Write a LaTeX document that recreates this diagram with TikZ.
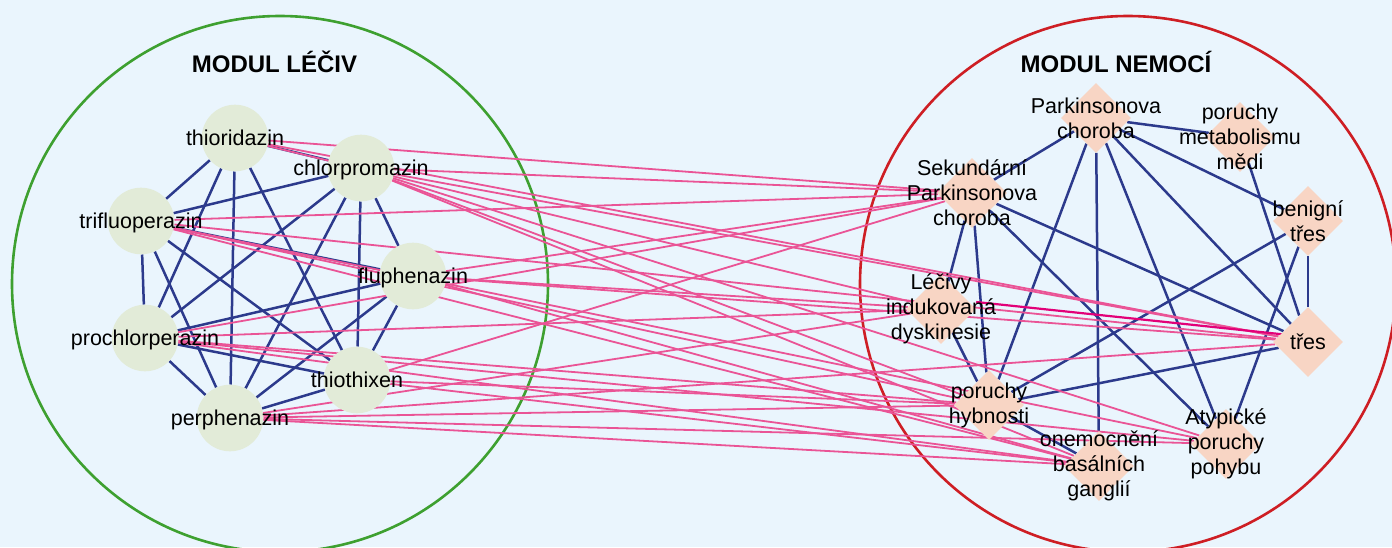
\documentclass[tikz,border=0pt]{standalone}
\usepackage{fontspec}
\setmainfont{Liberation Sans}
\usetikzlibrary{shapes.geometric,calc}
\pgfdeclarelayer{bg}
\pgfdeclarelayer{edges}
\pgfsetlayers{bg,edges,main}
\definecolor{bgcol}{RGB}{234,245,253}
\definecolor{drugfill}{RGB}{226,235,216}
\definecolor{disfill}{RGB}{248,213,196}
\definecolor{modgreen}{RGB}{62,160,48}
\definecolor{modred}{RGB}{206,30,36}
\definecolor{blueedge}{RGB}{44,58,140}
\definecolor{pinkedge}{RGB}{234,84,150}
\definecolor{magedge}{RGB}{226,0,120}
\tikzset{
  drug/.style={circle, fill=drugfill, minimum size=66.6pt, inner sep=0pt},
  dis/.style={diamond, fill=disfill, minimum width=70pt, minimum height=70pt, inner sep=0pt},
  lbl/.style={font=\fontsize{21.5}{25}\selectfont, text=black, inner sep=0pt, text height=15.5pt, text depth=0pt},
  mlbl/.style={font=\fontsize{21.5}{25}\selectfont, text=black, inner sep=0pt, align=center},
  within/.style={draw=blueedge, line width=2.5pt},
  across/.style={draw=pinkedge, line width=1.8pt},
  strongedge/.style={draw=magedge, line width=2.2pt},
  module/.style={line width=2.6pt},
  title/.style={font=\fontsize{24}{28}\selectfont\bfseries, inner sep=0pt, anchor=base}
}
\begin{document}
\begin{tikzpicture}[x=1pt,y=-1pt]
\useasboundingbox (0,0) rectangle (1392,547);
\begin{pgfonlayer}{bg}
  \fill[bgcol] (0,0) rectangle (1392,547);
  \draw[modgreen, module] (280,284) circle[radius=268pt];
  \draw[modred, module] (1128,284) circle[radius=268pt];
\end{pgfonlayer}

\node[title] (t1) at (274.5,72) {MODUL LÉČIV};
\node[title] (t2) at (1116,72) {MODUL NEMOCÍ};

% drug module
\node[drug, label={[lbl,name=Al]center:thioridazin}] (A) at (235,138) {};
\node[drug, label={[lbl,name=Bl]center:chlorpromazin}] (B) at (361,168) {};
\node[drug, label={[lbl,name=Cl]center:trifluoperazin}] (C) at (141,221) {};
\node[drug, label={[lbl,name=Dl]center:fluphenazin}] (D) at (413,276) {};
\node[drug, label={[lbl,name=El]center:prochlorperazin}] (E) at (145,338) {};
\node[drug, label={[lbl,name=Fl]center:thiothixen}] (F) at (357,380) {};
\node[drug, label={[lbl,name=Gl]center:perphenazin}] (G) at (230,418) {};

% disease module
\node[dis, label={[mlbl,name=Pl]center:{Parkinsonova\\choroba}}] (P) at (1096,118) {};
\node[dis, label={[mlbl,name=Ml]center:{poruchy\\metabolismu\\mědi}}] (M) at (1240,137) {};
\node[dis, label={[mlbl,name=Sl]center:{Sekundární\\Parkinsonova\\choroba}}] (S) at (972,193) {};
\node[dis, label={[mlbl,name=Ql]center:{benigní\\třes}}] (Q) at (1308,221) {};
\node[dis, label={[mlbl,name=Ll]center:{Léčivy\\indukovaná\\dyskinesie}}] (L) at (941,309) {};
\node[dis, label={[lbl,name=Tl]center:třes}] (T) at (1308,342) {};
\node[dis, label={[mlbl,name=Hl]center:{poruchy\\hybnosti}}] (H) at (989,405) {};
\node[dis, label={[mlbl,name=Ul]center:{Atypické\\poruchy\\pohybu}}] (U) at (1226,444) {};
\node[dis, label={[mlbl,name=Ol]center:{onemocnění\\basálních\\ganglií}}] (O) at (1099,466) {};

\begin{pgfonlayer}{edges}
  \foreach \a/\b in {A/B, A/C, A/E, A/F, A/G, B/C, B/D, B/E, B/F, B/G, C/D, C/E, C/F, C/G, D/E, D/F, D/G, E/F, E/G, F/G}
    \draw[within] (\a) -- (\b);
  \foreach \a/\b in {P/M, P/S, P/Q, P/T, P/U, P/O, P/H, M/T, S/L, S/H, S/T, S/U, Q/T, Q/H, Q/U, L/H, T/H, H/O}
    \draw[within] (\a) -- (\b);
  \foreach \a/\b in {A/S, A/T, A/L, B/S, B/T, B/H, B/O, B/U, C/S, C/T, C/H, C/U, C/O, D/S, D/L, D/T, D/O, E/S, E/L, E/H, E/O, E/U, F/S, F/H, F/O, G/L, G/T, G/H, G/U, G/O}
    \draw[across] (\a) -- (\b);
  \draw[strongedge] ($(L.east)+(0,-7)$) -- ($(T.center)+(0,-5)$);
\end{pgfonlayer}
\end{tikzpicture}
\end{document}
